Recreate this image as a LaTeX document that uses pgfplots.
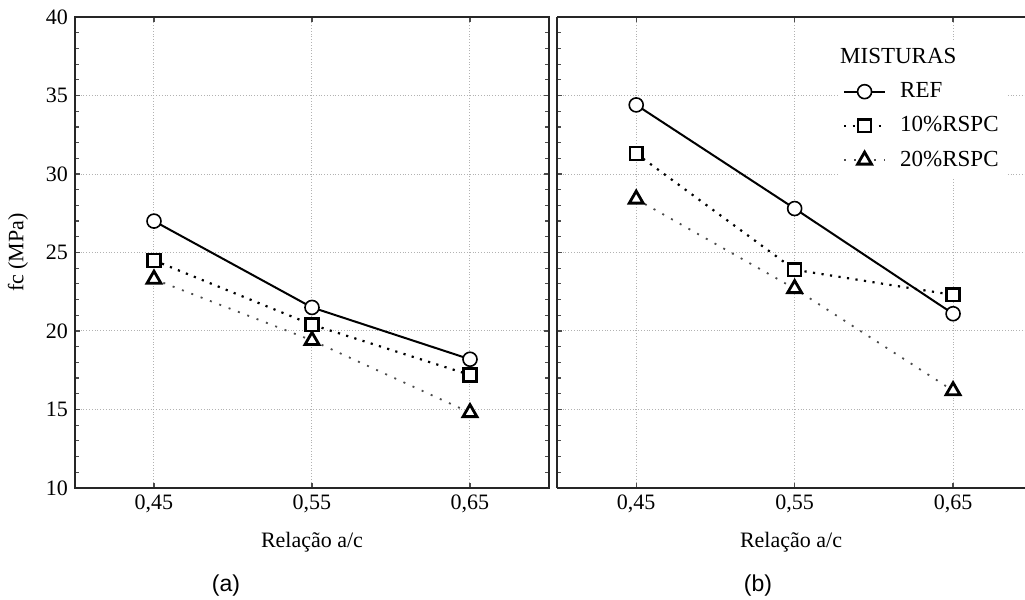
\documentclass[border=0pt]{standalone}
\usepackage{fontspec}
\setmainfont{Liberation Serif}
\newfontfamily\sansf{Liberation Sans}
\usepackage{pgfplots}
\usepackage{pgfplotstable}
\pgfplotsset{compat=1.18}

\pgfplotstableread{
x ref r10 r20
0.45 27.0 24.5 23.3
0.55 21.5 20.4 19.4
0.65 18.2 17.2 14.8
}\dataA
\pgfplotstableread{
x ref r10 r20
0.45 34.4 31.3 28.4
0.55 27.8 23.9 22.7
0.65 21.1 22.3 16.2
}\dataB

\pgfplotsset{
  panel/.style={
    scale only axis, height=235.5pt,
    ymin=10, ymax=40, ytick={10,15,...,40}, minor y tick num=4,
    xmin=0.4,
    xtick={0.45,0.55,0.65}, xticklabels={{0,45},{0,55},{0,65}},
    grid=major, major grid style={densely dotted, gray!60, line width=0.5pt},
    axis line style={line width=0.8pt, black!85},
    tick style={black!70, line width=0.6pt}, major tick length=2.5pt, minor tick length=2pt,
    tick label style={font=\fontsize{11}{13}\selectfont},
    label style={font=\fontsize{11}{13}\selectfont},
    /pgf/number format/assume math mode=true,
    xlabel={Relação a/c},
    xlabel style={at={(axis description cs:0.5,0)}, anchor=center, yshift=-27pt},
  },
  sref/.style={black, line width=1pt, mark=*, mark size=3.5pt, mark options={solid, fill=white, line width=0.8pt}},
  s10/.style={black, line width=1.1pt, dash pattern=on 1.1pt off 3.2pt, mark=square*, mark size=3.2pt, mark options={solid, fill=white, draw=black, line width=1.2pt}},
  s20/.style={black!70, line width=0.9pt, dash pattern=on 1pt off 4pt, mark=triangle*, mark size=4pt, mark options={solid, fill=white, draw=black, line width=1.4pt}},
}

\begin{document}
\begin{tikzpicture}
\useasboundingbox (0,0) rectangle (512.5pt,300pt);
\begin{axis}[panel, at={(37.5pt,56pt)}, anchor=south west, width=237pt, xmax=0.7,
  ylabel={fc (MPa)},
  ylabel style={at={(axis description cs:-0.1203,0.5)}, anchor=center},
  ]
\addplot[s20] table[x=x, y=r20] {\dataA};
\addplot[s10] table[x=x, y=r10] {\dataA};
\addplot[sref] table[x=x, y=ref] {\dataA};
\end{axis}
\begin{axis}[panel, at={(278.5pt,56pt)}, anchor=south west, width=234pt, xmax=0.6954,
  yticklabels={},
  axis y line*=left, y axis line style={-}, x axis line style={-},
  legend style={at={(axis description cs:1,1)}, anchor=north east, xshift=-9pt, yshift=-11.5pt,
    draw=none, fill=white, font=\fontsize{11.5}{13}\selectfont, row sep=4pt, column sep=5pt, inner sep=2pt},
  legend cell align=left,
  legend image code/.code={\draw[mark repeat=2, mark phase=2] plot coordinates {(0cm,0cm) (0.36cm,0cm) (0.72cm,0cm)};},
  ]
\addlegendimage{empty legend}
\addlegendentry{\hspace{-30pt}MISTURAS}
\addplot[sref] table[x=x, y=ref] {\dataB};
\addlegendentry{REF}
\addplot[s10] table[x=x, y=r10] {\dataB};
\addlegendentry{10\%RSPC}
\addplot[s20] table[x=x, y=r20] {\dataB};
\addlegendentry{20\%RSPC}
\end{axis}
\node[font=\sansf\fontsize{11.5}{13}\selectfont] at (113pt,7pt) {(a)};
\node[font=\sansf\fontsize{11.5}{13}\selectfont] at (379pt,7pt) {(b)};
\end{tikzpicture}
\end{document}
